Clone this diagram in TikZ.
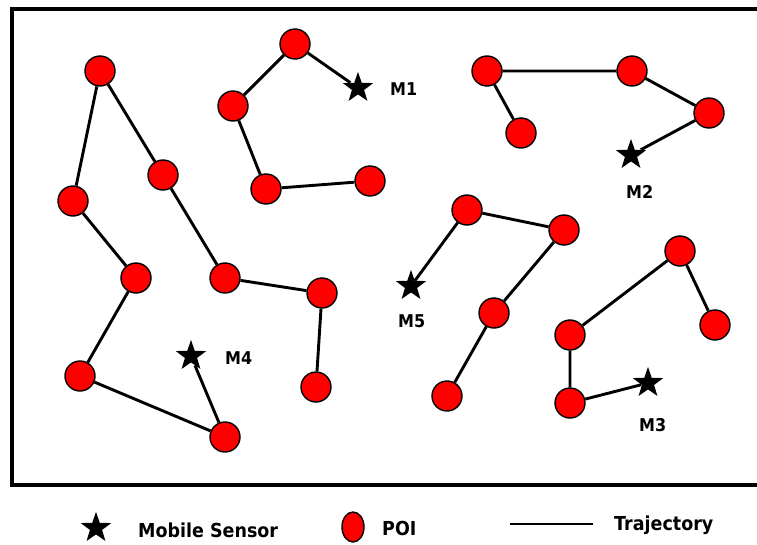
\documentclass[tikz,border=0pt]{standalone}
\usepackage{fontspec}
\setmainfont{DejaVu Sans}
\usetikzlibrary{shapes.geometric}
\tikzset{
    poi/.style={circle,draw=black,fill=red,line width=1.4pt,minimum size=30pt,inner sep=0pt},
    sensor/.style={star,star points=5,star point ratio=2.5,fill=black,minimum size=32pt,inner sep=0pt},
    trail/.style={line width=2.9pt},
    mlabel/.style={anchor=base west,inner sep=0pt,yscale=1.1,font=\bfseries\fontsize{16}{16}\selectfont},
    keytext/.style={anchor=base west,inner sep=0pt,yscale=1.1,font=\bfseries\fontsize{17.5}{18}\selectfont}
}
\begin{document}
\begin{tikzpicture}[x=1pt,y=-1pt]
    \useasboundingbox (0,0) rectangle (757,544);
    %draw field border
    \draw[line width=4pt] (757,9) -- (12,9) -- (12,485) -- (757,485);
    %draw points of interest
    \foreach \n/\x/\y in {a1/295/44,a2/233/106,a3/266/189,a4/370/181,
        b1/487/71,b2/521/133,b3/632/71,b4/709/113,
        c1/680/251,c2/715/325,c3/570/335,c4/570/403,
        e1/467/210,e2/564/230,e3/494/313,e4/447/396,
        d1/100/71,d2/73/201,d3/163/175,d4/136/278,d5/80/376,
        d6/225/278,d7/322/293,d8/316/387,d9/225/437}
        {%
            \node[poi] (\n) at (\x,\y) {};
        }
    %draw mobile sensors
    \foreach \n/\x/\y in {m1/358/88,m2/631/155,m3/648/383,m4/191/356,m5/411/286}
        {%
            \node[sensor] (\n) at (\x,\y) {};
        }
    %draw sensor labels
    \node[mlabel] (m1lbl) at (390,95) {M1};
    \node[mlabel] (m2lbl) at (626,198) {M2};
    \node[mlabel] (m3lbl) at (639,431) {M3};
    \node[mlabel] (m4lbl) at (225,364) {M4};
    \node[mlabel] (m5lbl) at (398,327) {M5};
    %draw trajectories
    \draw[trail] (a4) -- (a3) -- (a2) -- (a1) -- (m1);
    \draw[trail] (b2) -- (b1) -- (b3) -- (b4) -- (m2);
    \draw[trail] (c2) -- (c1) -- (c3) -- (c4) -- (m3);
    \draw[trail] (e4) -- (e3) -- (e2) -- (e1) -- (m5);
    \draw[trail] (d8) -- (d7) -- (d6) -- (d3) -- (d1) -- (d2) -- (d4) -- (d5) -- (d9) -- (m4);
    %draw legend
    \node[sensor] (keysensor) at (96,528) {};
    \node[keytext] (keysensortxt) at (138,537) {Mobile Sensor};
    \node[ellipse,draw=black,fill=red,line width=1.4pt,minimum width=22pt,minimum height=30pt,inner sep=0pt] (keypoi) at (353,527) {};
    \node[keytext] (keypoitxt) at (382,535) {POI};
    \coordinate (keya) at (510,524);
    \coordinate (keyb) at (593,524);
    \draw[trail] (keya) -- (keyb);
    \node[keytext] (keytrailtxt) at (614,530) {Trajectory};
\end{tikzpicture}
\end{document}
